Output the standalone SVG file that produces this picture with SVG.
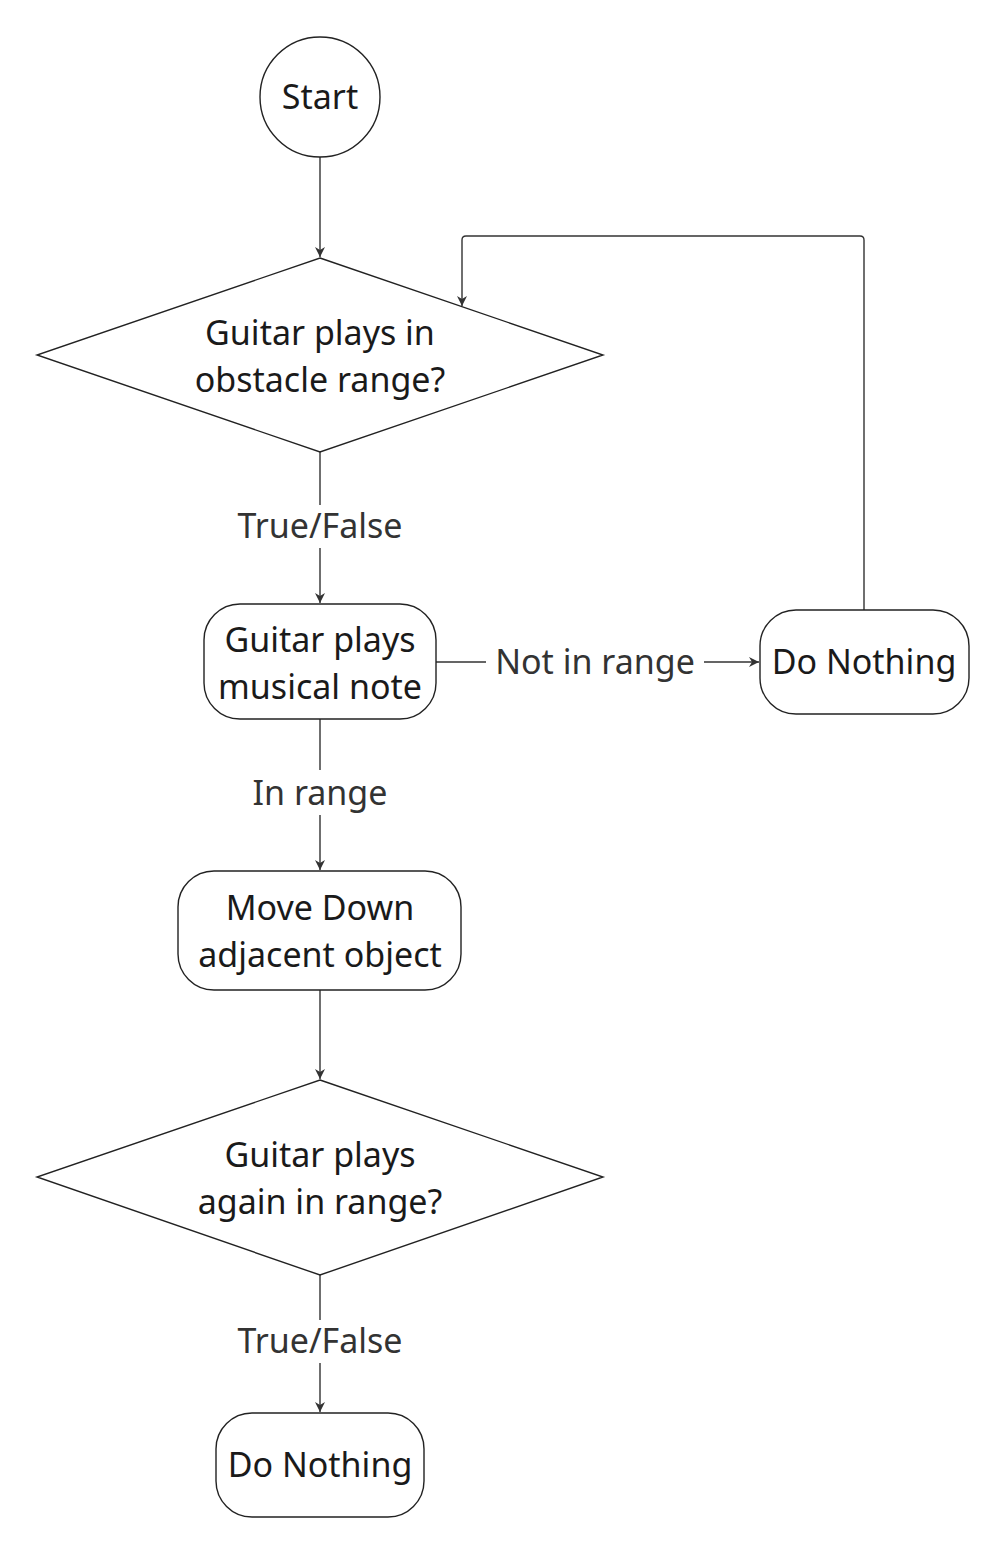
<svg xmlns="http://www.w3.org/2000/svg" width="1005" height="1553" viewBox="0 0 1005 1553">
<style>
.n{fill:#fff;stroke:#222;stroke-width:1.4}
.t{font-family:"Noto Sans","Open Sans",sans-serif;font-size:34px;fill:#1a1a1a;text-anchor:middle}
.l{font-family:"Noto Sans","Open Sans",sans-serif;font-size:34px;fill:#333;text-anchor:middle}
.c{fill:none;stroke:#333;stroke-width:1.4}
</style>
<defs>
<marker id="a" viewBox="0 0 10 10" refX="10" refY="5" markerWidth="10" markerHeight="10" markerUnits="userSpaceOnUse" orient="auto">
<path d="M0,0 L10,5 L0,10 L3,5 Z" fill="#333"/>
</marker>
</defs>
<rect width="1005" height="1553" fill="#fff"/>
<g id="connectors">
<path class="c" d="M320,157 V257" marker-end="url(#a)"/>
<path class="c" d="M320,452 V505 M320,548 V603" marker-end="url(#a)"/>
<path class="c" d="M436,662 H486 M704,662 H759" marker-end="url(#a)"/>
<path class="c" d="M864,610 V240 Q864,236 860,236 H466 Q462,236 462,240 V306" marker-end="url(#a)"/>
<path class="c" d="M320,719 V770 M320,815 V870" marker-end="url(#a)"/>
<path class="c" d="M320,990 V1079" marker-end="url(#a)"/>
<path class="c" d="M320,1275 V1320 M320,1363 V1412" marker-end="url(#a)"/>
<text class="l" x="320" y="538">True/False</text>
<text class="l" x="595" y="674">Not in range</text>
<text class="l" x="320" y="805">In range</text>
<text class="l" x="320" y="1353">True/False</text>
</g>
<g id="start">
<circle class="n" cx="320" cy="97" r="60"/>
<text class="t" x="320" y="109">Start</text>
</g>
<g id="decision1">
<polygon class="n" points="320,258 603,355 320,452 37,355"/>
<text class="t" x="320" y="345">Guitar plays in</text>
<text class="t" x="320" y="392">obstacle range?</text>
</g>
<g id="playNote">
<rect class="n" x="204" y="604" width="232" height="115" rx="36"/>
<text class="t" x="320" y="652">Guitar plays</text>
<text class="t" x="320" y="699">musical note</text>
</g>
<g id="doNothing1">
<rect class="n" x="760" y="610" width="209" height="104" rx="36"/>
<text class="t" x="864" y="674">Do Nothing</text>
</g>
<g id="moveDown">
<rect class="n" x="178" y="871" width="283" height="119" rx="36"/>
<text class="t" x="320" y="920">Move Down</text>
<text class="t" x="320" y="967">adjacent object</text>
</g>
<g id="decision2">
<polygon class="n" points="320,1080 603,1177 320,1275 37,1177"/>
<text class="t" x="320" y="1167">Guitar plays</text>
<text class="t" x="320" y="1214">again in range?</text>
</g>
<g id="doNothing2">
<rect class="n" x="216" y="1413" width="208" height="104" rx="36"/>
<text class="t" x="320" y="1477">Do Nothing</text>
</g>
</svg>
